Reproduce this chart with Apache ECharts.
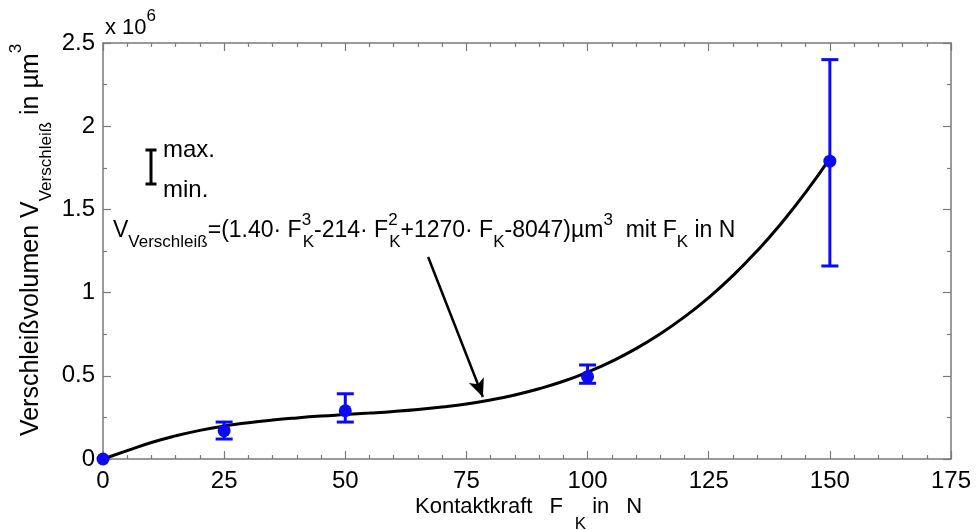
<!DOCTYPE html>
<html>
<head>
<meta charset="utf-8">
<script src="https://cdn.jsdelivr.net/npm/echarts@6/dist/echarts.min.js"></script>
<style>
html,body{margin:0;padding:0;background:#fff;}
#chart{width:976px;height:530px;}
</style>
</head>
<body>
<div id="chart"></div>
<script>
// Measured points (Kontaktkraft in N, wear volume in µm^3)
const forceN = [0, 25, 50, 100, 150];
const meanVol = [0, 170000, 290000, 495000, 1790000];
const minVol = [null, 120000, 222000, 455000, 1160000];
const maxVol = [null, 222000, 392000, 565000, 2400000];

// Fit curve
const curveX = [0, 5, 10, 15, 20, 25, 30, 35, 40, 45, 50, 55, 60, 65, 70, 75, 80, 85, 90, 95, 100, 105, 110, 115, 120, 125, 130, 135, 140, 145, 150];
const curveY = [0, 50000, 99000, 139000, 172000, 198000, 218000, 234000, 247000, 258000, 267000, 276000, 286000, 298000, 313000, 331000, 355000, 385000, 422000, 467000, 522000, 587000, 663000, 752000, 854000, 970000, 1102000, 1251000, 1417000, 1602000, 1807000];

// Arrow annotation endpoints (data coordinates)
const arrowFrom = [67.1, 1214000];
const arrowTo = [78.4, 373000];

const xTicks = { min: 0, max: 175, interval: 25 };
const yTicks = { min: 0, max: 2500000, interval: 500000 };

const FONT = '"Liberation Sans", Arial, sans-serif';
const AX = '#7a7a7a';
const BLUE = '#0a0af5';

const chart = echarts.init(document.getElementById('chart'), null, { renderer: 'canvas' });

function axisCommon(showLabels, isY) {
  return {
    type: 'value',
    axisLine: { show: true, onZero: false, lineStyle: { color: AX, width: 1.5 } },
    axisTick: { show: true, inside: true, length: 8, lineStyle: { color: AX, width: 1.2 } },
    minorTick: { show: true, splitNumber: isY ? 2 : 5, length: 4, lineStyle: { color: AX, width: 1.2 } },
    splitLine: { show: false },
    minorSplitLine: { show: false },
    axisLabel: {
      show: showLabels,
      color: '#000',
      fontFamily: FONT,
      fontSize: 24,
      margin: isY ? 8 : 10,
      formatter: isY ? (v => String(+(v / 1e6).toFixed(2))) : (v => String(v))
    }
  };
}

const errData = forceN.map((f, i) => [f, minVol[i], maxVol[i]]).filter(d => d[1] != null);

function T(size, lh, va, extra) {
  return Object.assign({ fontFamily: FONT, fontSize: size, color: '#000', lineHeight: lh, verticalAlign: va }, extra || {});
}

const eqRich = {
  b: T(23, 39, 'middle'),
  s: T(17, 17, 'bottom'),
  p: T(17, 31, 'top'),
  pz: T(17, 31, 'top', { width: 1 })
};

const option = {
  animation: false,
  backgroundColor: '#fff',
  grid: { left: 103, right: 25, top: 43, bottom: 71, containLabel: false },
  xAxis: [
    Object.assign(axisCommon(true, false), { position: 'bottom', min: xTicks.min, max: xTicks.max, interval: xTicks.interval }),
    Object.assign(axisCommon(false, false), { position: 'top', min: xTicks.min, max: xTicks.max, interval: xTicks.interval })
  ],
  yAxis: [
    Object.assign(axisCommon(true, true), { position: 'left', min: yTicks.min, max: yTicks.max, interval: yTicks.interval }),
    Object.assign(axisCommon(false, true), { position: 'right', min: yTicks.min, max: yTicks.max, interval: yTicks.interval })
  ],
  series: [
    {
      type: 'line',
      name: 'Fit',
      data: curveX.map((x, i) => [x, curveY[i]]),
      smooth: true,
      showSymbol: false,
      clip: false,
      lineStyle: { color: '#000', width: 3 },
      z: 3,
      markLine: {
        silent: true,
        symbol: ['none', 'arrow'],
        symbolSize: [12, 18],
        label: { show: false },
        lineStyle: { color: '#000', width: 2.5, type: 'solid' },
        data: [[{ coord: arrowFrom }, { coord: arrowTo }]]
      }
    },
    {
      type: 'custom',
      name: 'Fehler',
      data: errData,
      clip: false,
      z: 4,
      renderItem: function (params, api) {
        const x = api.value(0);
        const lo = api.coord([x, api.value(1)]);
        const hi = api.coord([x, api.value(2)]);
        const hw = 8.5;
        const st = { stroke: BLUE, lineWidth: 3 };
        return {
          type: 'group',
          children: [
            { type: 'line', shape: { x1: lo[0], y1: lo[1], x2: hi[0], y2: hi[1] }, style: st },
            { type: 'line', shape: { x1: lo[0] - hw, y1: lo[1], x2: lo[0] + hw, y2: lo[1] }, style: st },
            { type: 'line', shape: { x1: hi[0] - hw, y1: hi[1], x2: hi[0] + hw, y2: hi[1] }, style: st }
          ]
        };
      }
    },
    {
      type: 'scatter',
      name: 'Mittelwert',
      data: forceN.map((f, i) => [f, meanVol[i]]),
      symbol: 'circle',
      symbolSize: 13,
      clip: false,
      itemStyle: { color: BLUE, opacity: 1 },
      z: 5
    }
  ],
  graphic: [
    {
      type: 'text', x: 105, y: 28, z: 10,
      style: {
        text: '{b|x 10}{p|6}',
        verticalAlign: 'middle', align: 'left',
        rich: { b: T(22, 41, 'middle'), p: T(17, 17, 'top') }
      }
    },
    {
      type: 'text', x: 31, y: 240, rotation: Math.PI / 2, z: 10,
      style: {
        text: '{b|Verschleißvolumen V}{s|Verschleiß}{b| in µm}{p|3}',
        align: 'center', verticalAlign: 'middle',
        rich: { b: T(25, 47, 'middle'), s: T(17, 17, 'bottom'), p: T(17, 23, 'top') }
      }
    },
    {
      type: 'text', x: 415, y: 507, z: 10,
      style: {
        text: '{b|Kontaktkraft}{g1| }{b|F}{sk|K}{g2| }{b|in}{g1| }{b|N}',
        align: 'left', verticalAlign: 'middle',
        rich: {
          b: T(22, 51, 'middle'),
          g1: T(22, 51, 'middle', { width: 17 }),
          g2: T(22, 51, 'middle', { width: 6 }),
          sk: T(17, 17, 'bottom', { padding: [0, 0, 0, 12] })
        }
      }
    },
    {
      type: 'text', x: 113, y: 231, z: 10,
      style: {
        text: '{b|V}{s|Verschleiß}{b|=(1.40· F}{pz|3}{s|K}{b|-214· F}{pz|2}{s|K}{b|+1270· F}{s|K}{b|-8047)µm}{p|3}{b|  mit F}{s|K}{b| in N}',
        align: 'left', verticalAlign: 'middle',
        rich: eqRich
      }
    },
    // legend glyph for max/min error bar
    { type: 'line', z: 10, shape: { x1: 151, y1: 150, x2: 151, y2: 184 }, style: { stroke: '#000', lineWidth: 3 } },
    { type: 'line', z: 10, shape: { x1: 145.5, y1: 150, x2: 156.5, y2: 150 }, style: { stroke: '#000', lineWidth: 3 } },
    { type: 'line', z: 10, shape: { x1: 145.5, y1: 184, x2: 156.5, y2: 184 }, style: { stroke: '#000', lineWidth: 3 } },
    {
      type: 'text', x: 163, y: 150, z: 10,
      style: { text: 'max.', fontFamily: FONT, fontSize: 24, fill: '#000', align: 'left', verticalAlign: 'middle' }
    },
    {
      type: 'text', x: 163, y: 190, z: 10,
      style: { text: 'min.', fontFamily: FONT, fontSize: 24, fill: '#000', align: 'left', verticalAlign: 'middle' }
    }
  ]
};

chart.setOption(option);
</script>
</body>
</html>
